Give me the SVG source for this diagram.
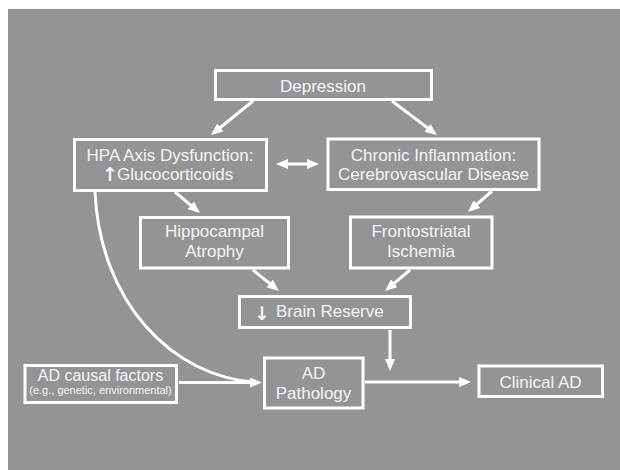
<svg xmlns="http://www.w3.org/2000/svg" width="620" height="470" viewBox="0 0 620 470">
<defs>
<marker id="ah" markerUnits="userSpaceOnUse" markerWidth="12" markerHeight="10" refX="8" refY="5" orient="auto-start-reverse">
<path d="M0,0 L12,5 L0,10 z" fill="#ffffff"/>
</marker>
<style>
.box{fill:none;stroke:#ffffff;stroke-width:3}
.t{font-family:"Liberation Sans",Arial,sans-serif;font-size:17px;fill:#f4f4f4;text-anchor:middle}
.s{font-size:11px}
.arr{font-family:"DejaVu Sans",sans-serif;font-size:19px;font-weight:bold}
.c{fill:none;stroke:#ffffff;stroke-width:3}
.a{marker-end:url(#ah)}
</style>
</defs>
<rect x="8" y="9" width="612" height="461" fill="#939495"/>
<g id="connectors">
<line class="c a" x1="253" y1="101" x2="214.1" y2="132.5"/>
<line class="c a" x1="392" y1="101" x2="433.8" y2="132.6"/>
<line class="c a" x1="175" y1="192" x2="196.9" y2="210.4"/>
<line class="c a" x1="492" y1="191" x2="471" y2="209.4"/>
<line class="c a" x1="253" y1="270" x2="275.9" y2="288.5"/>
<line class="c a" x1="410" y1="270" x2="388.1" y2="288.4"/>
<line class="c a" x1="390" y1="330" x2="390" y2="367"/>
<line class="c a" x1="179" y1="382.5" x2="258" y2="382.5"/>
<line class="c a" x1="365" y1="382" x2="467" y2="382"/>
<path class="c" d="M95,192 C100,300 170,378 259,382.5"/>
<line class="c a" x1="280" y1="164" x2="315" y2="164" style="marker-start:url(#ah)"/>
</g>
<g id="depression">
<rect class="box" x="215.5" y="70.5" width="216" height="29"/>
<text class="t" x="323" y="92">Depression</text>
</g>
<g id="hpa">
<rect class="box" x="74.5" y="139.5" width="192" height="51"/>
<text class="t" x="170" y="160.5">HPA Axis Dysfunction:</text>
<text class="t arr" x="110" y="181">↑</text>
<text class="t" x="117" y="179.5" style="text-anchor:start">Glucocorticoids</text>
</g>
<g id="chronic">
<rect class="box" x="328" y="139" width="211" height="50.5"/>
<text class="t" x="433.5" y="160.5">Chronic Inflammation:</text>
<text class="t" x="433.5" y="179.5">Cerebrovascular Disease</text>
</g>
<g id="hippocampal">
<rect class="box" x="140.5" y="217.5" width="148" height="50.5"/>
<text class="t" x="214.5" y="237">Hippocampal</text>
<text class="t" x="214.5" y="257">Atrophy</text>
</g>
<g id="frontostriatal">
<rect class="box" x="350.5" y="217" width="141.5" height="51"/>
<text class="t" x="421" y="237">Frontostriatal</text>
<text class="t" x="421" y="257">Ischemia</text>
</g>
<g id="brainreserve">
<rect class="box" x="239.5" y="296.5" width="171" height="31"/>
<text class="t arr" x="262" y="320">↓</text>
<text class="t" x="276" y="317" style="text-anchor:start">Brain Reserve</text>
</g>
<g id="adcausal">
<rect class="box" x="25" y="365.5" width="151.5" height="37"/>
<text class="t" x="100.5" y="380.5" style="font-size:16px">AD causal factors</text>
<text class="t s" x="100.5" y="393.5">(e.g., genetic, environmental)</text>
</g>
<g id="adpathology">
<rect class="box" x="264.5" y="358" width="98.5" height="50"/>
<text class="t" x="313.5" y="378.5">AD</text>
<text class="t" x="313.5" y="398.5">Pathology</text>
</g>
<g id="clinicalad">
<rect class="box" x="479" y="366" width="123.5" height="30.5"/>
<text class="t" x="540.5" y="387.5">Clinical AD</text>
</g>
</svg>
